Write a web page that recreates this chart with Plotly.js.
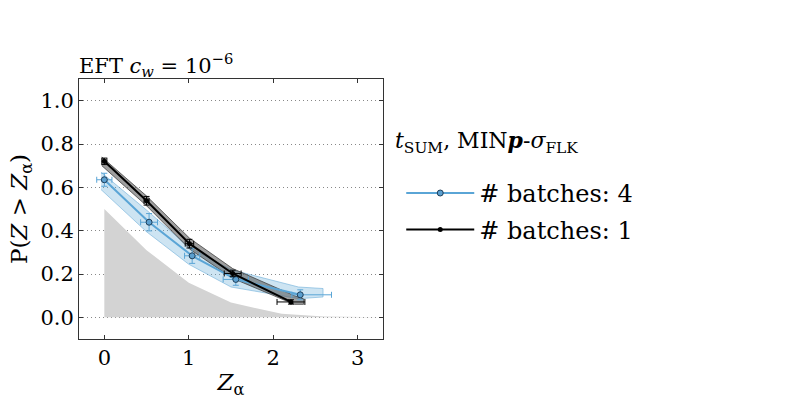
<!DOCTYPE html>
<html>
<head>
<meta charset="utf-8">
<script src="https://cdn.plot.ly/plotly-3.0.1.min.js"></script>
<style>
  html, body { margin: 0; padding: 0; background: #fff; }
  #chart { width: 797px; height: 399px; }
</style>
</head>
<body>
<div id="chart"></div>
<script>
// reference (gray) curve
const refX = [0, 0.5, 1.0, 1.5, 2.1, 2.6, 3.3];
const refY = [0.50, 0.31, 0.16, 0.068, 0.016, 0.004, 0.0];

// # batches: 4
const b4X = [0, 0.53, 1.04, 1.557, 2.32];
const b4Y = [0.635, 0.439, 0.284, 0.175, 0.104];
const b4Xerr = [0.09, 0.1, 0.09, 0.15, 0.37];
const b4XerrMinus = [0.09, 0.1, 0.09, 0.15, 0.1];
const b4Yerr = [0.03, 0.04, 0.035, 0.027, 0.023];
const b4BandX = [-0.04, 0.5, 1.0, 1.5, 2.3, 2.59];
const b4BandHi = [0.67, 0.495, 0.325, 0.22, 0.14, 0.133];
const b4BandLo = [0.59, 0.395, 0.245, 0.14, 0.086, 0.094];

// # batches: 1
const b1X = [0, 0.5, 1.008, 1.52, 2.21];
const b1Y = [0.72, 0.538, 0.34, 0.2025, 0.071];
const b1Xerr = [0.03, 0.03, 0.05, 0.1, 0.165];
const b1Yerr = [0.015, 0.02, 0.02, 0.015, 0.01];
const b1BandX = [-0.03, 0.5, 1.01, 1.52, 2.25, 2.36];
const b1BandHi = [0.74, 0.56, 0.365, 0.225, 0.10, 0.085];
const b1BandLo = [0.70, 0.515, 0.315, 0.18, 0.06, 0.06];

const serif = 'DejaVu Serif';
const blue = '#5aa5d6';

function band(xs, hi, lo, fill, edge) {
  return {
    x: xs.concat(xs.slice().reverse()),
    y: hi.concat(lo.slice().reverse()),
    type: 'scatter',
    mode: 'lines',
    fill: 'toself',
    fillcolor: fill,
    line: { color: edge, width: 1 },
    hoverinfo: 'skip',
    showlegend: false
  };
}

const traces = [
  {
    x: refX, y: refY,
    type: 'scatter', mode: 'lines',
    fill: 'tozeroy', fillcolor: '#d3d3d3',
    line: { width: 0, color: '#d3d3d3' },
    showlegend: false
  },
  band(b4BandX, b4BandHi, b4BandLo, 'rgba(100,170,215,0.32)', 'rgba(100,170,215,0.55)'),
  band(b1BandX, b1BandHi, b1BandLo, 'rgba(80,80,80,0.55)', 'rgba(50,50,50,0.7)'),
  {
    x: b4X, y: b4Y,
    type: 'scatter', mode: 'lines+markers',
    name: '# batches: 4',
    legend: 'legend',
    line: { color: blue, width: 2 },
    marker: { symbol: 'circle', size: 6, color: '#5b9fcf', line: { color: '#1f3f5a', width: 1 } },
    error_x: { type: 'data', array: b4Xerr, arrayminus: b4XerrMinus, color: blue, thickness: 1, width: 3 },
    error_y: { type: 'data', array: b4Yerr, color: blue, thickness: 1, width: 3 }
  },
  {
    x: b1X, y: b1Y,
    type: 'scatter', mode: 'lines+markers',
    name: '# batches: 1',
    legend: 'legend2',
    line: { color: '#000', width: 2 },
    marker: { symbol: 'circle', size: 5, color: '#000' },
    error_x: { type: 'data', array: b1Xerr, color: '#000', thickness: 1, width: 3 },
    error_y: { type: 'data', array: b1Yerr, color: '#000', thickness: 1, width: 3 }
  }
];

const legendBase = {
  xanchor: 'left', yanchor: 'middle',
  bgcolor: 'rgba(0,0,0,0)',
  font: { family: serif, size: 24, color: '#000' },
  itemwidth: 68
};

const layout = {
  width: 797,
  height: 399,
  margin: { l: 79, r: 414, t: 79, b: 60 },
  paper_bgcolor: '#fff',
  plot_bgcolor: '#fff',
  font: { family: serif, size: 20, color: '#000' },
  title: {
    text: 'EFT <i>c</i><sub><i>w</i></sub> = 10<sup>−6</sup>',
    font: { family: serif, size: 21, color: '#000' },
    x: 0, xref: 'paper', xanchor: 'left',
    y: 1, yref: 'paper', yanchor: 'bottom',
    pad: { b: 6 }
  },
  xaxis: {
    range: [-0.3, 3.3],
    tickvals: [0, 1, 2, 3],
    ticks: 'inside', ticklen: 4, tickcolor: '#333',
    showgrid: false, zeroline: false,
    showline: true, mirror: 'ticks', linecolor: '#333', linewidth: 1,
    tickfont: { family: serif, size: 21, color: '#000' },
    title: { text: '<i>Z</i><sub>α</sub>', font: { family: serif, size: 23, color: '#000' }, standoff: 6 }
  },
  yaxis: {
    range: [-0.1, 1.1],
    tickvals: [0, 0.2, 0.4, 0.6, 0.8, 1.0],
    ticktext: ['0.0', '0.2', '0.4', '0.6', '0.8', '1.0'],
    ticks: 'inside', ticklen: 4, tickcolor: '#333',
    showgrid: true, gridcolor: '#888', griddash: '1px,3px', gridwidth: 1,
    zeroline: false,
    showline: true, mirror: 'ticks', linecolor: '#333', linewidth: 1,
    tickfont: { family: serif, size: 21, color: '#000' },
    title: { text: 'P(<i>Z</i> > <i>Z</i><sub>α</sub>)', font: { family: serif, size: 23, color: '#000' }, standoff: 6 }
  },
  legend: Object.assign({ x: 1.06, y: 0.56 }, legendBase),
  legend2: Object.assign({ x: 1.06, y: 0.42 }, legendBase),
  annotations: [{
    text: '<i>t</i><sub>SUM</sub>, MIN<b><i>p</i></b>-<i>σ</i><sub>FLK</sub>',
    xref: 'paper', yref: 'paper',
    x: 1.033, y: 0.758,
    xanchor: 'left', yanchor: 'middle',
    showarrow: false,
    font: { family: serif, size: 22, color: '#000' }
  }],
  showlegend: true
};

Plotly.newPlot('chart', traces, layout, { displayModeBar: false, staticPlot: true });
</script>
</body>
</html>
